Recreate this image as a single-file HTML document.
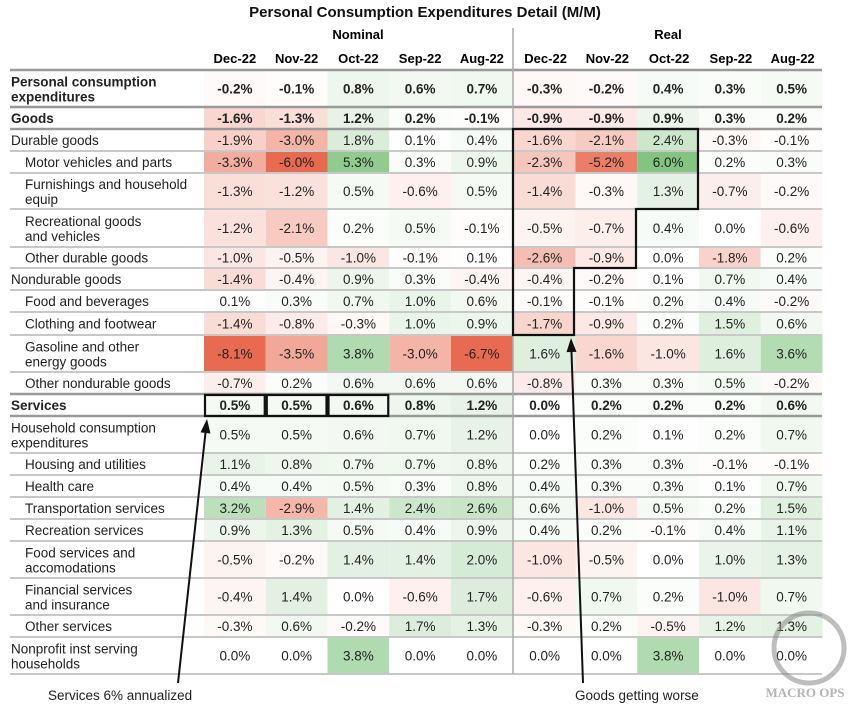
<!DOCTYPE html>
<html><head><meta charset="utf-8">
<style>
body{margin:0;background:#fff;font-family:"Liberation Sans",sans-serif;color:#222;}
#wrap{position:relative;width:850px;height:708px;overflow:hidden;}
</style></head>
<body>
<div id="wrap">
<svg id="svg" width="850" height="708" style="position:absolute;left:0;top:0"></svg>
</div>
<script>
const months = ["Dec-22","Nov-22","Oct-22","Sep-22","Aug-22"];
const labels = ["Personal consumption|expenditures","Goods","Durable goods","Motor vehicles and parts","Furnishings and household|equip","Recreational goods|and vehicles","Other durable goods","Nondurable goods","Food and beverages","Clothing and footwear","Gasoline and other|energy goods","Other nondurable goods","Services","Household consumption|expenditures","Housing and utilities","Health care","Transportation services","Recreation services","Food services and|accomodations","Financial services|and insurance","Other services","Nonprofit inst serving|households"];
const indent = [0,0,0,1,1,1,1,0,1,1,1,1,0,0,1,1,1,1,1,1,1,0];
const bold = [1,1,0,0,0,0,0,0,0,0,0,0,1,0,0,0,0,0,0,0,0,0];
const nominal = [
[-0.2,-0.1,0.8,0.6,0.7],[-1.6,-1.3,1.2,0.2,-0.1],[-1.9,-3.0,1.8,0.1,0.4],[-3.3,-6.0,5.3,0.3,0.9],
[-1.3,-1.2,0.5,-0.6,0.5],[-1.2,-2.1,0.2,0.5,-0.1],[-1.0,-0.5,-1.0,-0.1,0.1],[-1.4,-0.4,0.9,0.3,-0.4],
[0.1,0.3,0.7,1.0,0.6],[-1.4,-0.8,-0.3,1.0,0.9],[-8.1,-3.5,3.8,-3.0,-6.7],[-0.7,0.2,0.6,0.6,0.6],
[0.5,0.5,0.6,0.8,1.2],[0.5,0.5,0.6,0.7,1.2],[1.1,0.8,0.7,0.7,0.8],[0.4,0.4,0.5,0.3,0.8],
[3.2,-2.9,1.4,2.4,2.6],[0.9,1.3,0.5,0.4,0.9],[-0.5,-0.2,1.4,1.4,2.0],[-0.4,1.4,0.0,-0.6,1.7],
[-0.3,0.6,-0.2,1.7,1.3],[0.0,0.0,3.8,0.0,0.0]];
const real = [
[-0.3,-0.2,0.4,0.3,0.5],[-0.9,-0.9,0.9,0.3,0.2],[-1.6,-2.1,2.4,-0.3,-0.1],[-2.3,-5.2,6.0,0.2,0.3],
[-1.4,-0.3,1.3,-0.7,-0.2],[-0.5,-0.7,0.4,0.0,-0.6],[-2.6,-0.9,0.0,-1.8,0.2],[-0.4,-0.2,0.1,0.7,0.4],
[-0.1,-0.1,0.2,0.4,-0.2],[-1.7,-0.9,0.2,1.5,0.6],[1.6,-1.6,-1.0,1.6,3.6],[-0.8,0.3,0.3,0.5,-0.2],
[0.0,0.2,0.2,0.2,0.6],[0.0,0.2,0.1,0.2,0.7],[0.2,0.3,0.3,-0.1,-0.1],[0.4,0.3,0.3,0.1,0.7],
[0.6,-1.0,0.5,0.2,1.5],[0.4,0.2,-0.1,0.4,1.1],[-1.0,-0.5,0.0,1.0,1.3],[-0.6,0.7,0.2,-1.0,0.7],
[-0.3,0.2,-0.5,1.2,1.3],[0.0,0.0,3.8,0.0,0.0]];
const rowEdges = [70,107,129,151,173,209,247,268,290,312,335,372,394,416,453,475,497,519,541,578,615,637,674];

const NS="http://www.w3.org/2000/svg";
const svg=document.getElementById('svg');
const colX = i => 204 + i*61.75;
const colW = 61.75;
function mk(tag,attrs,parent){const e=document.createElementNS(NS,tag);for(const k in attrs)e.setAttribute(k,attrs[k]);(parent||svg).appendChild(e);return e;}
function color(v){
  const t=Math.min(Math.abs(v)/6,1);
  const base = v<0?[232,106,80]:[130,196,128];
  const c=base.map(b=>Math.round(255+(b-255)*t));
  return `rgb(${c[0]},${c[1]},${c[2]})`;
}
let e=mk('text',{x:425,y:17,'text-anchor':'middle','font-size':15,'font-weight':'bold',fill:'#111'});e.textContent='Personal Consumption Expenditures Detail (M/M)';


e=mk('text',{x:358,y:39,'text-anchor':'middle','font-size':13,'font-weight':'bold'});e.textContent='Nominal';


e=mk('text',{x:668,y:39,'text-anchor':'middle','font-size':13,'font-weight':'bold'});e.textContent='Real';


for(let g=0;g<2;g++)for(let i=0;i<5;i++){
  e=mk('text',{x:colX(g*5+i)+colW/2+(g?2:0),y:63,'text-anchor':'middle','font-size':13,'font-weight':'bold'});e.textContent=months[i];
  
  
}
labels.forEach((lab,r)=>{
  const y0=rowEdges[r],y1=rowEdges[r+1],ym=(y0+y1)/2;
  const vals=nominal[r].concat(real[r]);
  vals.forEach((v,c)=>{
    const x=colX(c)+(c>=5?1:0);
    const rc=mk('rect',{x:x,y:y0,width:colW,height:y1-y0,fill:color(v)});
    
    
    const tx=mk('text',{x:x+colW/2,y:ym+5,'text-anchor':'middle','font-size':13.5,'font-weight':bold[r]?'bold':'normal',fill:'#222'});
    tx.textContent=v.toFixed(1)+'%';
    
    
  });
  const parts=lab.split('|');
  const lx=indent[r]?25:11;
  parts.forEach((p,k)=>{
    const ly = parts.length===1? ym+5 : ym-2+k*15;
    const t=mk('text',{x:lx,y:ly,'font-size':13.5,'font-weight':bold[r]?'bold':'normal',fill:'#222'});
    t.textContent=p;
    
    
  });
});
rowEdges.forEach((y,i)=>{
  const heavy=(i===0||i===1||i===2||i===12||i===13);
  const l=mk('line',{x1:10,x2:822,y1:y,y2:y,stroke:heavy?'#999':'#c8c8c8','stroke-width':heavy?2.5:2});
  
  
});
e=mk('line',{x1:513,x2:513,y1:28,y2:674,stroke:'#aaa','stroke-width':1.5});


for(let i=0;i<3;i++){
  e=mk('rect',{x:colX(i)+1,y:395,width:colW-2,height:21,fill:'none',stroke:'#111','stroke-width':2.2});
  
  
}
e=mk('path',{d:'M513,129 L698,129 L698,209 L636,209 L636,268 L574,268 L574,335 L513,335 Z',fill:'none',stroke:'#111','stroke-width':2.2});


function arrow(x1,y1,x2,y2,name){
  const g=mk('g',{});
  
  
  const ang=Math.atan2(y2-y1,x2-x1);
  const hx=x2-14*Math.cos(ang),hy=y2-14*Math.sin(ang);
  mk('line',{x1:x1,y1:y1,x2:hx,y2:hy,stroke:'#111','stroke-width':2},g);
  const px=-Math.sin(ang)*5,py=Math.cos(ang)*5;
  mk('polygon',{points:`${x2},${y2} ${hx+px},${hy+py} ${hx-px},${hy-py}`,fill:'#111'},g);
}
arrow(178,683,207,419,'services-arrow');
arrow(583,683,571,338,'goods-arrow');
e=mk('text',{x:48,y:700,'font-size':13.5,fill:'#222'});e.textContent='Services 6% annualized';


e=mk('text',{x:575,y:700,'font-size':13.5,fill:'#222'});e.textContent='Goods getting worse';


const wm=mk('g',{opacity:0.55});


mk('circle',{cx:809,cy:648,r:35,fill:'none',stroke:'#888','stroke-width':5},wm);
const wt=mk('text',{x:805,y:697,'text-anchor':'middle','font-size':13,'font-family':'Liberation Serif, serif','font-weight':'bold',fill:'#777'},wm);
wt.textContent='MACRO OPS';
</script>
</body></html>
